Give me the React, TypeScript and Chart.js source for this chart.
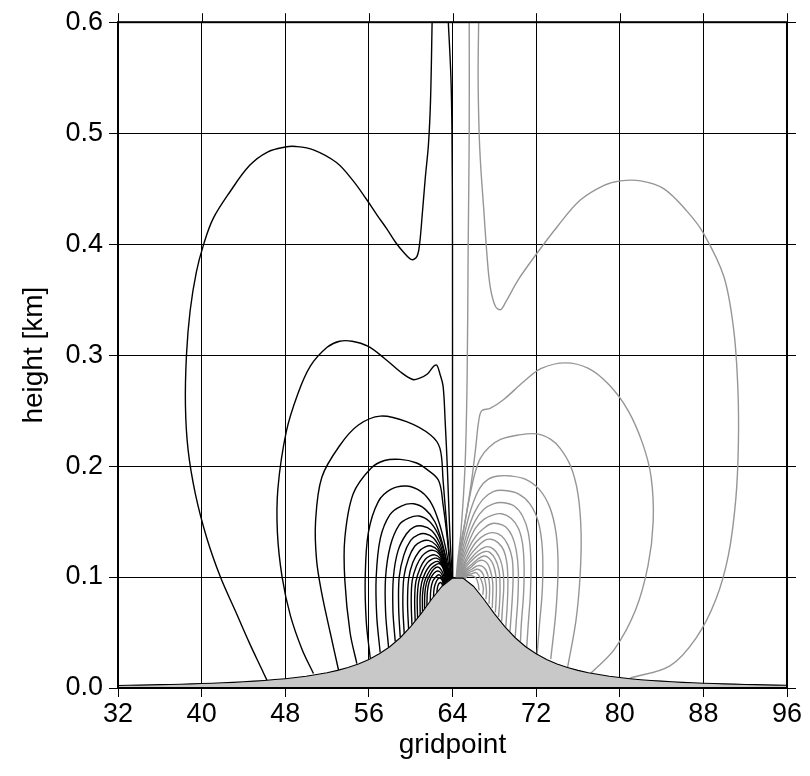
import React, { useEffect, useRef } from "react";
import { Chart, registerables } from "chart.js";

Chart.register(...registerables);

type Pt = [number, number];

// x-axis ticks / y-axis ticks
const xTicks = [32, 40, 48, 56, 64, 72, 80, 88, 96];
const yTicks = [0.0, 0.1, 0.2, 0.3, 0.4, 0.5, 0.6];

// terrain (height in km) at each gridpoint
const gridpoints = [
  32, 33, 34, 35, 36, 37, 38, 39, 40, 41, 42, 43, 44, 45, 46, 47, 48, 49, 50, 51, 52, 53, 54, 55,
  56, 57, 58, 59, 60, 61, 62, 63, 64, 65, 66, 67, 68, 69, 70, 71, 72, 73, 74, 75, 76, 77, 78, 79,
  80, 81, 82, 83, 84, 85, 86, 87, 88, 89, 90, 91, 92, 93, 94, 95, 96,
];
const terrainHeight = [
  0.0023, 0.0025, 0.0026, 0.0028, 0.003, 0.0032, 0.0034, 0.0037, 0.004, 0.0043, 0.0047, 0.0051,
  0.0056, 0.0062, 0.0068, 0.0076, 0.0084, 0.0094, 0.0106, 0.0121, 0.0138, 0.0159, 0.0185, 0.0217,
  0.0257, 0.0308, 0.0372, 0.0453, 0.0553, 0.0671, 0.08, 0.0917, 0.099, 0.099, 0.0917, 0.08, 0.0671,
  0.0553, 0.0453, 0.0372, 0.0308, 0.0257, 0.0217, 0.0185, 0.0159, 0.0138, 0.0121, 0.0106, 0.0094,
  0.0084, 0.0075, 0.0068, 0.0062, 0.0056, 0.0051, 0.0047, 0.0043, 0.004, 0.0037, 0.0035, 0.0032,
  0.003, 0.0028, 0.0026, 0.0025,
];

// black contours (left of the ridge)
const B0: Pt[] = [[63.6, 0.6], [63.85, 0.55], [63.95, 0.5], [64.0, 0.4], [64.0, 0.25], [64.02, 0.099]];
const B1: Pt[] = [
  [46.3, 0.006], [45.7, 0.018], [44.6, 0.04], [43.2, 0.07], [41.8, 0.1], [40.5, 0.135], [39.4, 0.175],
  [38.7, 0.215], [38.45, 0.255], [38.55, 0.3], [38.9, 0.34], [39.5, 0.375], [40.2, 0.4], [41.1, 0.423],
  [42.7, 0.447], [44.6, 0.471], [46.3, 0.483], [48.0, 0.4875], [49.0, 0.488], [50.7, 0.485],
  [52.9, 0.4735], [54.5, 0.457], [55.8, 0.44], [56.8, 0.426], [57.7, 0.414], [58.6, 0.401],
  [59.3, 0.393], [60.1, 0.386], [60.6, 0.389], [60.85, 0.4], [61.1, 0.426], [61.4, 0.46],
  [61.7, 0.49], [61.9, 0.53], [62.05, 0.6],
];
const B2: Pt[] = [
  [50.7, 0.013], [49.6, 0.035], [48.5, 0.065], [47.7, 0.1], [47.25, 0.14], [47.3, 0.18], [48.1, 0.231],
  [49.2, 0.265], [50.4, 0.29], [52.0, 0.307], [53.2, 0.3125], [54.4, 0.3125], [55.9, 0.308],
  [57.5, 0.297], [59.0, 0.285], [60.2, 0.278], [60.8, 0.279], [61.6, 0.283], [62.2, 0.29],
  [62.5, 0.291], [62.8, 0.283], [63.1, 0.272], [63.3, 0.24], [63.5, 0.2], [63.7, 0.15], [63.85, 0.12],
  [64.0, 0.099],
];
const B3: Pt[] = [
  [53.1, 0.016], [52.3, 0.05], [51.5, 0.085], [51.0, 0.115], [50.9, 0.15], [51.5, 0.19], [53.25, 0.219],
  [55.0, 0.237], [57.1, 0.245], [59.6, 0.24], [61.9, 0.228], [62.8, 0.216], [63.1, 0.187],
  [63.5, 0.14], [63.75, 0.115], [63.95, 0.099],
];
const B4: Pt[] = [
  [54.85, 0.022], [54.2, 0.05], [53.7, 0.097], [53.7, 0.135], [54.5, 0.175], [56.2, 0.198],
  [57.5, 0.205], [59.0, 0.206], [60.5, 0.203], [61.55, 0.197], [62.67, 0.187], [63.1, 0.165],
  [63.5, 0.135], [63.75, 0.11], [63.9, 0.098],
];
const B5: Pt[] = [
  [56.13, 0.027], [55.75, 0.06], [55.65, 0.1], [55.95, 0.14], [56.9, 0.168], [58.1, 0.179],
  [59.6, 0.182], [61.0, 0.177], [62.0, 0.166], [62.75, 0.148], [63.3, 0.128], [63.65, 0.11],
  [63.85, 0.098],
];
const B6: Pt[] = [
  [57.08, 0.032], [56.75, 0.065], [56.7, 0.1], [57.1, 0.135], [58.0, 0.156], [59.1, 0.164],
  [60.3, 0.166], [61.4, 0.161], [62.3, 0.15], [62.95, 0.133], [63.45, 0.114], [63.8, 0.098],
];
const B7: Pt[] = [
  [57.88, 0.037], [57.6, 0.068], [57.6, 0.1], [58.05, 0.128], [58.9, 0.147], [59.8, 0.153],
  [60.8, 0.155], [61.8, 0.15], [62.6, 0.139], [63.15, 0.124], [63.5, 0.109], [63.75, 0.097],
];
const B8: Pt[] = [
  [58.52, 0.042], [58.3, 0.07], [58.35, 0.1], [58.8, 0.124], [59.6, 0.139], [60.3, 0.145],
  [61.1, 0.146], [62.0, 0.142], [62.7, 0.132], [63.2, 0.118], [63.5, 0.106], [63.7, 0.097],
];
const B9: Pt[] = [
  [59.0, 0.046], [58.85, 0.072], [58.9, 0.1], [59.35, 0.12], [60.0, 0.133], [60.7, 0.138],
  [61.4, 0.139], [62.2, 0.135], [62.85, 0.125], [63.3, 0.112], [63.5, 0.104], [63.65, 0.097],
];
const B10: Pt[] = [
  [59.38, 0.049], [59.25, 0.075], [59.35, 0.1], [59.8, 0.117], [60.4, 0.128], [61.0, 0.132],
  [61.7, 0.133], [62.4, 0.129], [62.95, 0.12], [63.35, 0.108], [63.6, 0.097],
];
const B11: Pt[] = [
  [59.8, 0.053], [59.7, 0.077], [59.8, 0.098], [60.2, 0.113], [60.8, 0.123], [61.35, 0.127],
  [61.95, 0.128], [62.6, 0.124], [63.1, 0.115], [63.4, 0.105], [63.55, 0.096],
];
const B12: Pt[] = [
  [60.12, 0.057], [60.05, 0.079], [60.15, 0.097], [60.55, 0.11], [61.1, 0.119], [61.6, 0.123],
  [62.15, 0.124], [62.7, 0.121], [63.15, 0.112], [63.4, 0.102], [63.5, 0.096],
];
const B13: Pt[] = [
  [60.43, 0.06], [60.38, 0.08], [60.5, 0.096], [60.9, 0.108], [61.4, 0.116], [61.85, 0.119],
  [62.3, 0.12], [62.8, 0.117], [63.2, 0.109], [63.4, 0.1], [63.45, 0.095],
];
const B14: Pt[] = [
  [60.66, 0.063], [60.63, 0.081], [60.78, 0.096], [61.15, 0.106], [61.6, 0.113], [62.0, 0.116],
  [62.45, 0.117], [62.9, 0.114], [63.25, 0.106], [63.4, 0.095],
];
const B15: Pt[] = [
  [60.91, 0.066], [60.9, 0.083], [61.05, 0.095], [61.4, 0.104], [61.8, 0.11], [62.2, 0.113],
  [62.6, 0.114], [63.0, 0.111], [63.3, 0.102], [63.35, 0.095],
];
const B16: Pt[] = [
  [61.13, 0.069], [61.13, 0.084], [61.3, 0.095], [61.65, 0.103], [62.0, 0.108], [62.4, 0.111],
  [62.75, 0.112], [63.1, 0.108], [63.28, 0.1], [63.3, 0.094],
];
const B17: Pt[] = [
  [61.33, 0.071], [61.35, 0.085], [61.52, 0.095], [61.85, 0.102], [62.2, 0.107], [62.6, 0.109],
  [62.95, 0.106], [63.2, 0.1], [63.25, 0.094],
];
const B18: Pt[] = [
  [61.55, 0.074], [61.6, 0.087], [61.78, 0.096], [62.1, 0.102], [62.45, 0.105], [62.75, 0.105],
  [63.0, 0.102], [63.15, 0.097], [63.2, 0.093],
];
const B19: Pt[] = [
  [61.87, 0.078], [61.93, 0.089], [62.1, 0.096], [62.4, 0.1], [62.7, 0.102], [62.95, 0.1],
  [63.1, 0.096], [63.15, 0.093],
];
const B20: Pt[] = [
  [62.18, 0.082], [62.25, 0.09], [62.45, 0.096], [62.7, 0.099], [62.95, 0.098], [63.08, 0.095],
  [63.1, 0.092],
];
const B21: Pt[] = [[62.5, 0.086], [62.6, 0.092], [62.8, 0.095], [62.98, 0.094], [63.05, 0.092]];

// grey contours (right of the ridge)
const G0: Pt[] = [[65.6, 0.6], [65.6, 0.5], [65.5, 0.4], [65.4, 0.28], [65.2, 0.2], [64.8, 0.14], [64.5, 0.115], [64.35, 0.099]];
const G1: Pt[] = [
  [66.5, 0.6], [66.45, 0.55], [66.55, 0.5], [66.7, 0.47], [67.0, 0.43], [67.3, 0.39], [67.6, 0.362],
  [68.1, 0.344], [68.6, 0.341], [69.1, 0.348], [70.3, 0.368], [72.1, 0.392], [74.0, 0.4155],
  [76.2, 0.4395], [78.5, 0.453], [80.06, 0.457], [82.0, 0.457], [84.2, 0.45], [86.4, 0.43],
  [88.0, 0.41], [89.95, 0.371], [90.9, 0.323], [91.3, 0.27], [91.35, 0.22], [91.1, 0.17],
  [90.4, 0.12], [89.2, 0.08], [87.3, 0.045], [84.8, 0.02], [81.0, 0.009],
];
const G2: Pt[] = [
  [64.4, 0.099], [64.7, 0.125], [65.3, 0.155], [65.8, 0.185], [66.2, 0.215], [66.5, 0.24],
  [66.8, 0.25], [67.6, 0.252], [68.9, 0.26], [70.8, 0.276], [72.5, 0.288], [74.8, 0.293],
  [77.0, 0.288], [79.0, 0.273], [80.8, 0.25], [82.2, 0.22], [83.0, 0.19], [83.2, 0.15],
  [82.7, 0.11], [81.5, 0.07], [79.5, 0.035], [77.2, 0.013],
];
const G3: Pt[] = [
  [64.45, 0.099], [64.7, 0.12], [65.2, 0.15], [65.7, 0.175], [66.1, 0.192], [66.66, 0.207],
  [67.5, 0.217], [68.6, 0.224], [70.3, 0.228], [72.1, 0.229], [73.4, 0.224], [74.3, 0.216],
  [75.3, 0.2], [76.0, 0.175], [76.3, 0.14], [76.2, 0.1], [75.8, 0.06], [75.0, 0.018],
];
const G4: Pt[] = [
  [64.5, 0.099], [64.75, 0.12], [65.3, 0.145], [65.9, 0.165], [66.6, 0.18], [67.4, 0.188],
  [68.4, 0.191], [69.6, 0.191], [71.0, 0.188], [72.3, 0.179], [73.3, 0.163], [73.9, 0.14],
  [74.1, 0.11], [73.9, 0.07], [73.4, 0.026],
];
const G5: Pt[] = [
  [64.55, 0.099], [64.8, 0.118], [65.4, 0.14], [66.1, 0.158], [66.9, 0.17], [67.9, 0.177],
  [69.0, 0.178], [70.3, 0.175], [71.4, 0.166], [72.2, 0.15], [72.6, 0.125], [72.6, 0.09],
  [72.3, 0.055], [72.1, 0.031],
];
const G6: Pt[] = [
  [64.6, 0.099], [64.85, 0.116], [65.45, 0.135], [66.2, 0.151], [67.0, 0.161], [67.9, 0.166],
  [68.9, 0.167], [69.9, 0.164], [70.7, 0.155], [71.25, 0.14], [71.5, 0.115], [71.45, 0.085],
  [71.25, 0.058], [71.1, 0.037],
];
const G7: Pt[] = [
  [64.65, 0.099], [64.9, 0.114], [65.5, 0.13], [66.2, 0.144], [67.0, 0.152], [67.9, 0.156],
  [68.7, 0.157], [69.6, 0.153], [70.3, 0.144], [70.7, 0.13], [70.85, 0.11], [70.8, 0.085],
  [70.6, 0.06], [70.5, 0.042],
];
const G8: Pt[] = [
  [64.7, 0.099], [64.95, 0.112], [65.55, 0.126], [66.25, 0.137], [67.0, 0.144], [67.7, 0.148],
  [68.4, 0.148], [69.1, 0.145], [69.7, 0.137], [70.1, 0.124], [70.3, 0.105], [70.25, 0.08],
  [70.1, 0.06], [70.0, 0.046],
];
const G9: Pt[] = [
  [64.75, 0.099], [65.0, 0.11], [65.6, 0.122], [66.3, 0.132], [67.1, 0.138], [67.9, 0.14],
  [68.7, 0.137], [69.3, 0.129], [69.7, 0.117], [69.8, 0.1], [69.7, 0.078], [69.5, 0.051],
];
const G10: Pt[] = [
  [64.8, 0.099], [65.05, 0.109], [65.65, 0.119], [66.35, 0.127], [67.1, 0.133], [67.7, 0.134],
  [68.35, 0.131], [68.9, 0.124], [69.2, 0.113], [69.3, 0.097], [69.25, 0.077], [69.1, 0.055],
];
const G11: Pt[] = [
  [64.85, 0.099], [65.1, 0.108], [65.7, 0.116], [66.4, 0.123], [67.1, 0.127], [67.6, 0.127],
  [68.15, 0.123], [68.6, 0.115], [68.85, 0.104], [68.9, 0.09], [68.8, 0.075], [68.7, 0.06],
];
const G12: Pt[] = [
  [64.9, 0.099], [65.15, 0.107], [65.75, 0.114], [66.45, 0.12], [67.1, 0.123], [67.6, 0.122],
  [68.1, 0.116], [68.45, 0.106], [68.55, 0.092], [68.5, 0.076], [68.4, 0.064],
];
const G13: Pt[] = [
  [64.95, 0.099], [65.2, 0.106], [65.8, 0.111], [66.4, 0.116], [67.0, 0.119], [67.5, 0.117],
  [67.9, 0.111], [68.15, 0.101], [68.2, 0.088], [68.15, 0.076], [68.1, 0.068],
];
const G14: Pt[] = [
  [65.0, 0.099], [65.25, 0.105], [65.8, 0.109], [66.4, 0.114], [66.9, 0.115], [67.35, 0.112],
  [67.65, 0.105], [67.85, 0.095], [67.85, 0.084], [67.8, 0.072],
];
const G15: Pt[] = [
  [65.05, 0.098], [65.3, 0.104], [65.85, 0.107], [66.35, 0.11], [66.75, 0.11], [67.15, 0.107],
  [67.4, 0.101], [67.55, 0.092], [67.5, 0.076],
];
const G16: Pt[] = [
  [65.1, 0.098], [65.35, 0.103], [65.85, 0.105], [66.3, 0.107], [66.65, 0.106], [66.95, 0.102],
  [67.15, 0.095], [67.25, 0.087], [67.2, 0.08],
];
const G17: Pt[] = [
  [65.15, 0.098], [65.4, 0.102], [65.85, 0.103], [66.25, 0.104], [66.55, 0.101], [66.8, 0.096],
  [66.95, 0.09], [66.9, 0.084],
];
const G18: Pt[] = [[65.2, 0.098], [65.45, 0.101], [65.9, 0.101], [66.25, 0.099], [66.45, 0.094], [66.55, 0.088]];

const blackContours: Pt[][] = [B0, B1, B2, B3, B4, B5, B6, B7, B8, B9, B10, B11, B12, B13, B14, B15, B16, B17, B18, B19, B20, B21];
const greyContours: Pt[][] = [G0, G1, G2, G3, G4, G5, G6, G7, G8, G9, G10, G11, G12, G13, G14, G15, G16, G17, G18];

const FONT = "'Liberation Sans', Arial, Helvetica, sans-serif";
const TICK = 9;

// frame with ticks on the top and right edges (bottom/left ticks come from the scales)
const framePlugin = {
  id: "frame",
  afterDraw(chart: any) {
    const { ctx, chartArea, scales } = chart;
    const { left, top, right, bottom } = chartArea;
    ctx.save();
    ctx.strokeStyle = "#000";
    ctx.lineWidth = 1;
    ctx.beginPath();
    xTicks.forEach((v) => {
      const px = Math.round(scales.x.getPixelForValue(v)) + 0.5;
      ctx.moveTo(px, top);
      ctx.lineTo(px, top - TICK);
    });
    yTicks.forEach((v) => {
      const py = Math.round(scales.y.getPixelForValue(v)) + 0.5;
      ctx.moveTo(right, py);
      ctx.lineTo(right + TICK, py);
    });
    ctx.stroke();
    ctx.lineWidth = 2;
    ctx.strokeRect(left, top, right - left, bottom - top);
    ctx.restore();
  },
};

export default function App() {
  const ref = useRef<HTMLCanvasElement | null>(null);

  useEffect(() => {
    if (!ref.current) return;
    const toXY = (c: Pt[]) => c.map(([x, y]) => ({ x, y }));
    const contourSet = (list: Pt[][], color: string) =>
      list.map((c) => ({
        data: toXY(c),
        borderColor: color,
        borderWidth: 1.4,
        pointRadius: 0,
        fill: false,
        tension: 0.35,
        order: 1,
      }));

    const chart = new Chart(ref.current, {
      type: "line",
      data: {
        datasets: [
          {
            data: gridpoints.map((g, i) => ({ x: g, y: terrainHeight[i] })),
            borderColor: "#000",
            borderWidth: 1.1,
            backgroundColor: "#c8c8c8",
            fill: "origin",
            pointRadius: 0,
            tension: 0,
            order: 0,
          },
          ...contourSet(blackContours, "#000"),
          ...contourSet(greyContours, "#969696"),
        ] as any,
      },
      options: {
        animation: false,
        responsive: false,
        devicePixelRatio: 1,
        layout: { padding: { top: 19, right: 23, left: 0, bottom: 0 } },
        plugins: { legend: { display: false }, tooltip: { enabled: false } },
        scales: {
          x: {
            type: "linear",
            min: 32,
            max: 96,
            afterBuildTicks: (s: any) => {
              s.ticks = xTicks.map((v) => ({ value: v }));
            },
            afterFit: (s: any) => {
              s.height = 88;
            },
            ticks: { color: "#000", font: { family: FONT, size: 27 }, padding: 1, maxRotation: 0 },
            grid: { color: "#000", lineWidth: 1, tickLength: TICK },
            border: { display: false },
            title: { display: true, text: "gridpoint", color: "#000", font: { family: FONT, size: 28 }, padding: { bottom: 14 } },
          },
          y: {
            type: "linear",
            min: 0,
            max: 0.6,
            afterBuildTicks: (s: any) => {
              s.ticks = yTicks.map((v) => ({ value: v }));
            },
            afterFit: (s: any) => {
              s.width = 118;
            },
            ticks: {
              color: "#000",
              font: { family: FONT, size: 27 },
              padding: 6,
              callback: (v: any) => Number(v).toFixed(1),
            },
            grid: { color: "#000", lineWidth: 1, tickLength: TICK },
            border: { display: false },
            title: { display: true, text: "height [km]", color: "#000", font: { family: FONT, size: 28 }, padding: { top: 17 } },
          },
        },
      },
      plugins: [framePlugin],
    } as any);
    return () => chart.destroy();
  }, []);

  return (
    <div style={{ position: "absolute", left: 0, top: 0, width: 810, height: 776, background: "#fff" }}>
      <canvas ref={ref} width={810} height={776} style={{ width: 810, height: 776, display: "block" }} />
    </div>
  );
}
